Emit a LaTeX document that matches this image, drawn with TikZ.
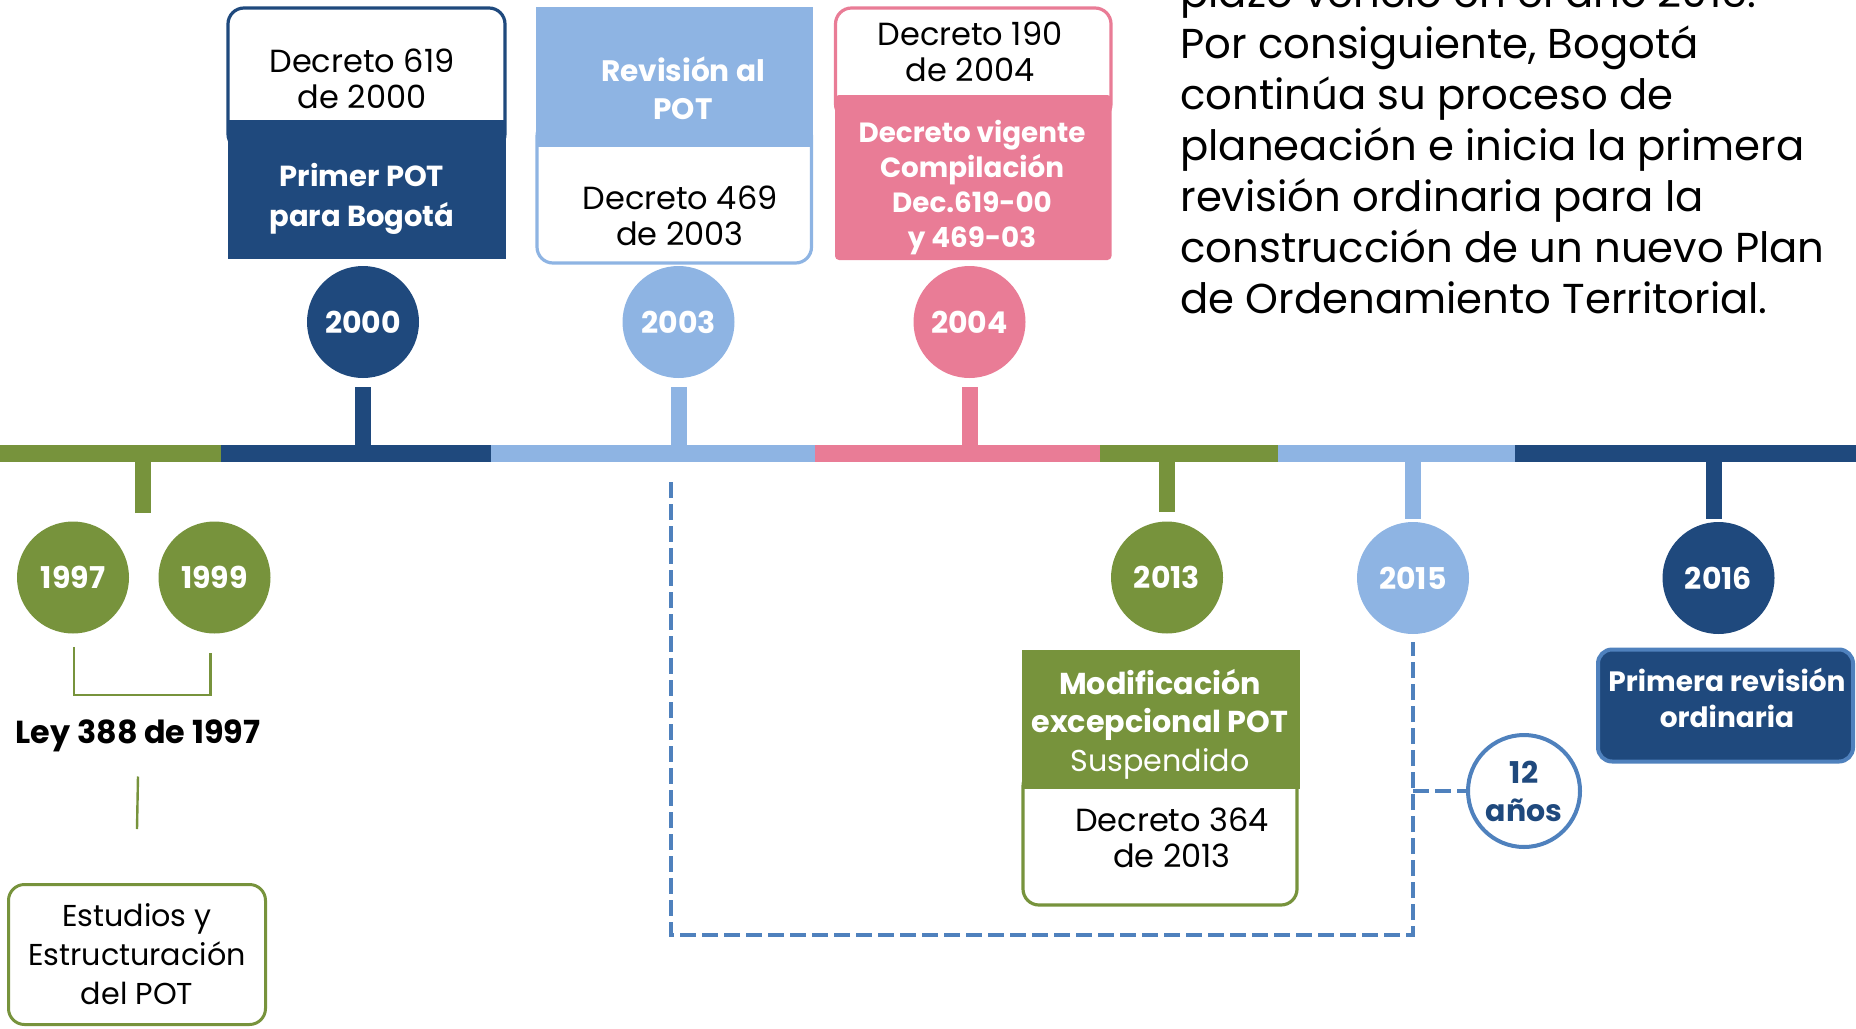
\documentclass[tikz,border=0pt]{standalone}
\usepackage{fontspec}
\setmainfont{Poppins}
\usepackage{tikz}
\usetikzlibrary{positioning}

\definecolor{navy}{HTML}{1F497D}
\definecolor{sky}{HTML}{8EB4E3}
\definecolor{rose}{HTML}{E97C96}
\definecolor{olive}{HTML}{77933C}
\definecolor{midblue}{HTML}{4F81BD}

\tikzset{
  yr/.style={circle,inner sep=0pt,minimum size=56pt,text=white,font=\fontsize{15}{17}\selectfont\bfseries},
  stem/.style={line width=8pt},
  lab/.style={align=center,inner sep=0pt,font=\fontsize{16}{18.3}\selectfont},
  blab/.style={align=center,inner sep=0pt,text=white,font=\fontsize{14.8}{19}\selectfont\bfseries},
  capbox/.style={fill=white,line width=1.6pt,rounded corners=8pt},
  gapline/.style={draw=midblue,line width=2.2pt,dash pattern=on 8pt off 3pt},
  twig/.style={draw=olive,line width=1.2pt},
}

\begin{document}
\begin{tikzpicture}[x=0.5pt,y=-0.5pt]
      \useasboundingbox (0,0) rectangle (1856,1028);
      \clip (0,0) rectangle (1856,1028);

      \filldraw[capbox,draw=navy] (228,150) rectangle (505,8);
      \fill[navy] (228,120) rectangle (506,259);
      \filldraw[capbox,draw=sky] (537,120) rectangle (811.5,263);
      \fill[sky] (536,7) rectangle (813,147);
      \filldraw[capbox,draw=rose] (835.5,120) rectangle (1111,8);
      \fill[rose,rounded corners=2pt] (835,95) rectangle (1111.5,260);
      \filldraw[capbox,draw=olive] (1023,770) rectangle (1297,905);
      \fill[olive] (1022,650) rectangle (1300,789);

      \node[lab] (t2000a) at (362,79) {Decreto 619\\de 2000};
      \node[blab,font=\fontsize{14.5}{20}\selectfont\bfseries] (t2000b) at (362,199) {Primer POT\\para Bogotá};
      \node[blab] (t2003a) at (683,88) {Revisión al\\POT};
      \node[lab] (t2003b) at (680,216) {Decreto 469\\de 2003};
      \node[lab] (t2004a) at (970,52) {Decreto 190\\de 2004};
      \node[blab,font=\fontsize{13.9}{17.5}\selectfont\bfseries] (t2004b) at (972,188) {Decreto vigente\\Compilación\\Dec.619-00\\y 469-03};
      \node[blab,font=\fontsize{15.1}{19.2}\selectfont\bfseries] (t2013a) at (1160,724) {Modificación\\excepcional POT\\{\mdseries Suspendido}};
      \node[lab] (t2013b) at (1172,838) {Decreto 364\\de 2013};

      \fill[olive] (0,445) rectangle (221,462);
      \fill[navy] (221,445) rectangle (491,462);
      \fill[sky] (491,445) rectangle (815,462);
      \fill[rose] (815,445) rectangle (1100,462);
      \fill[olive] (1100,445) rectangle (1278,462);
      \fill[sky] (1278,445) rectangle (1515,462);
      \fill[navy] (1515,445) rectangle (1856,462);
      \coordinate (bar) at (0,453.5);

      \node[yr,fill=olive] (c1997) at (73,577.5) {1997};
      \node[yr,fill=olive] (c1999) at (214.5,577.5) {1999};
      \node[yr,fill=navy] (c2000) at (363,322) {2000};
      \node[yr,fill=sky] (c2003) at (678.5,322) {2003};
      \node[yr,fill=rose] (c2004) at (969.5,322) {2004};
      \node[yr,fill=olive] (c2013) at (1167,577.5) {2013};
      \node[yr,fill=sky] (c2015) at (1413,578) {2015};
      \node[yr,fill=navy] (c2016) at (1718.5,578) {2016};

      \coordinate (twin) at (143,513);
      \draw[stem,olive] (twin) -- (twin |- bar);
      \draw[stem,navy] ([yshift=-4.5pt]c2000.south) -- (c2000 |- bar);
      \draw[stem,sky] ([yshift=-4.5pt]c2003.south) -- (c2003 |- bar);
      \draw[stem,rose] ([yshift=-4.5pt]c2004.south) -- (c2004 |- bar);
      \draw[stem,olive] ([yshift=4.5pt]c2013.north) -- (c2013 |- bar);
      \draw[stem,sky] ([yshift=1.5pt]c2015.north) -- (c2015 |- bar);
      \draw[stem,navy] ([xshift=-2.5pt,yshift=1.5pt]c2016.north) -- ([xshift=-2.5pt]c2016 |- bar);

      \draw[twig] ([shift={(1,13)}]c1997.south) |- ([shift={(-4,61)}]c1999.south) -- ([shift={(-4,19)}]c1999.south);
      \node[inner sep=0pt,font=\fontsize{15.9}{17}\selectfont\bfseries] (ley) at (138,736) {Ley 388 de 1997};
      \node[lab,draw=olive,line width=1.5pt,rounded corners=8pt,minimum width=128.5pt,minimum height=70pt,font=\fontsize{15.1}{19.5}\selectfont] (est) at (137,954.5) {Estudios y\\Estructuración\\del POT};
      \draw[twig] ([yshift=-12pt]ley.south) -- ([yshift=27pt]est.north);

      \node[circle,draw=midblue,line width=2pt,fill=white,minimum size=56pt,inner sep=0pt,align=center,text=navy,font=\fontsize{15}{19}\selectfont\bfseries] (c12) at (1524,791) {12\\años};
      \node[draw=midblue,fill=navy,line width=2pt,rounded corners=7pt,minimum width=127.5pt,minimum height=56pt] (p2016) at (1725.5,705.5) {};
      \node[blab,font=\fontsize{14}{18.3}\selectfont\bfseries] (t2016) at (1727,698) {Primera revisión\\ordinaria};

      \coordinate (spanA) at (671,482);
      \coordinate (spanB) at (0,935);
      \draw[gapline] (spanA) |- (c2015 |- spanB) -- ([yshift=-4pt]c2015.south);
      \draw[gapline] (c2015 |- c12.west) -- (c12.west);

      \node[anchor=north west,inner sep=0pt,align=left,font=\fontsize{20.9}{25.5}\selectfont] (txt) at (1180,-26) {plazo venció en el año 2015.\\Por consiguiente, Bogotá\\continúa su proceso de\\planeación e inicia la primera\\revisión ordinaria para la\\construcción de un nuevo Plan\\de Ordenamiento Territorial.};
\end{tikzpicture}
\end{document}
